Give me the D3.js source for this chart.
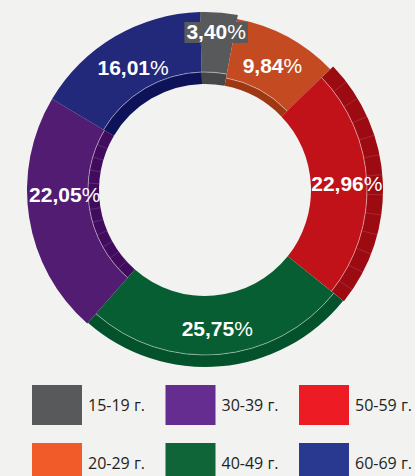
<!DOCTYPE html>
<html>
<head>
<meta charset="utf-8">
<script src="https://cdn.jsdelivr.net/npm/d3@7"></script>
<style>
  body { margin: 0; background: #f2f2f0; }
  svg { display: block; }
</style>
</head>
<body>
<script>
// datos (orden de la tarta, en sentido horario desde arriba)
var grupos = ["15-19 г.", "20-29 г.", "50-59 г.", "40-49 г.", "30-39 г.", "60-69 г."]
var porcentajes = [3.40, 9.84, 22.96, 25.75, 22.05, 16.01]

// leyenda (columna a columna, dos filas)
var gruposLeyenda = ["15-19 г.", "20-29 г.", "30-39 г.", "40-49 г.", "50-59 г.", "60-69 г."]

var datos = grupos.map((g, i) => ({grupo: g, valor: porcentajes[i]}))

var width = 415
var height = 476
var centro = {x: 205, y: 190}

// colores
var colorCara = d3.scaleOrdinal()
    .domain(gruposLeyenda)
    .range(["#58595b", "#c44a22", "#521c72", "#075e33", "#c1121a", "#22297a"])
var colorLado = d3.scaleOrdinal()
    .domain(gruposLeyenda)
    .range(["#464749", "#9e3812", "#410c5d", "#03522b", "#9c0a12", "#0e1259"])
var colorLeyenda = d3.scaleOrdinal()
    .domain(gruposLeyenda)
    .range(["#58595b", "#f15a29", "#662d91", "#0f6537", "#ed1c24", "#2a3990"])

// efecto 3D: radios de la cara y del lateral de cada porcion
var forma = {
    "15-19 г.": {cara: [118, 178], lado: [106, 118], rayas: false},
    "20-29 г.": {cara: [114, 174], lado: [106, 114], rayas: false},
    "50-59 г.": {cara: [106, 162], lado: [162, 178], rayas: true},
    "40-49 г.": {cara: [106, 165], lado: [165, 177], rayas: false},
    "30-39 г.": {cara: [117, 178], lado: [106, 117], rayas: true},
    "60-69 г.": {cara: [118, 178], lado: [106, 118], rayas: false}
}
var ajusteEtiqueta = {"15-19 г.": -17, "30-39 г.": -18, "40-49 г.": -3}

var formato = d3.formatLocale({decimal: ",", thousands: " ", grouping: [3], currency: ["", ""]}).format(".2f")

var inicio = -1.6 * Math.PI / 180
var pie = d3.pie()
    .sort(null)
    .value(d => d.valor)
    .startAngle(inicio)
    .endAngle(inicio + 2 * Math.PI)

var porciones = pie(datos)

var svg = d3.select("body")
    .append("svg")
    .attr("width", width)
    .attr("height", height)

var g = svg.append("g")
    .attr("transform", "translate(" + centro.x + "," + centro.y + ")")

// lateral oscuro
g.selectAll("path.lado")
    .data(porciones)
    .enter()
    .append("path")
    .attr("class", "lado")
    .attr("fill", d => colorLado(d.data.grupo))
    .attr("d", d => d3.arc()
        .innerRadius(forma[d.data.grupo].lado[0])
        .outerRadius(forma[d.data.grupo].lado[1])(d))

// rayas del lateral
porciones.forEach(function (d) {
    var f = forma[d.data.grupo]
    if (!f.rayas) return
    var paso = 6.5 * Math.PI / 180
    for (var a = d.startAngle + paso; a < d.endAngle - paso / 3; a += paso) {
        g.append("line")
            .attr("x1", f.lado[0] * Math.sin(a))
            .attr("y1", -f.lado[0] * Math.cos(a))
            .attr("x2", f.lado[1] * Math.sin(a))
            .attr("y2", -f.lado[1] * Math.cos(a))
            .attr("stroke", "rgba(255,255,255,0.22)")
            .attr("stroke-width", 0.6)
    }
})

// cara
g.selectAll("path.cara")
    .data(porciones)
    .enter()
    .append("path")
    .attr("class", "cara")
    .attr("fill", d => colorCara(d.data.grupo))
    .attr("d", d => d3.arc()
        .innerRadius(forma[d.data.grupo].cara[0])
        .outerRadius(forma[d.data.grupo].cara[1])(d))

// linea fina entre cara y lateral
g.selectAll("path.borde")
    .data(porciones)
    .enter()
    .append("path")
    .attr("class", "borde")
    .attr("fill", "none")
    .attr("stroke", "rgba(255,255,255,0.4)")
    .attr("stroke-width", 0.6)
    .attr("d", function (d) {
        var f = forma[d.data.grupo]
        var r = f.lado[0] < f.cara[0] ? f.cara[0] : f.cara[1]
        return d3.arc().innerRadius(r).outerRadius(r)(d)
    })

// etiquetas
var radioEtiqueta = 142
porciones.forEach(function (d, i) {
    var a = (d.startAngle + d.endAngle) / 2
    var x = radioEtiqueta * Math.sin(a)
    var y = -radioEtiqueta * Math.cos(a) + (ajusteEtiqueta[d.data.grupo] || 0)
    var etiqueta = g.append("text")
        .attr("x", x)
        .attr("y", y)
        .attr("dy", "0.36em")
        .attr("text-anchor", "middle")
        .attr("fill", "#ffffff")
        .style("font-family", "'Liberation Sans', Arial, sans-serif")
        .style("font-size", "21px")
        .style("font-weight", "bold")
    etiqueta.append("tspan").text(formato(d.data.valor))
    etiqueta.append("tspan").style("font-weight", "normal").text("%")

    // la etiqueta pequena lleva fondo
    if (d.data.valor < 5) {
        var caja = etiqueta.node().getBBox()
        g.insert("rect", "text")
            .attr("x", caja.x - 2)
            .attr("y", caja.y + 2)
            .attr("width", caja.width + 4)
            .attr("height", caja.height - 2)
            .attr("fill", colorCara(d.data.grupo))
    }
})

// leyenda
var leyenda = svg.append("g")
var escalaColumna = d3.scalePoint().domain([0, 1, 2]).range([32, 299])
var escalaFila = d3.scalePoint().domain([0, 1]).range([385, 443])

var item = leyenda.selectAll("g")
    .data(gruposLeyenda)
    .enter()
    .append("g")
    .attr("transform", (d, i) => "translate(" + escalaColumna(Math.floor(i / 2)) + "," + escalaFila(i % 2) + ")")

item.append("rect")
    .attr("width", 50)
    .attr("height", 40)
    .attr("fill", d => colorLeyenda(d))

item.append("text")
    .attr("x", 56)
    .attr("y", 26)
    .attr("fill", "#231f20")
    .style("font-family", "'Open Sans', sans-serif")
    .style("font-size", "16px")
    .text(d => d)
</script>
</body>
</html>
